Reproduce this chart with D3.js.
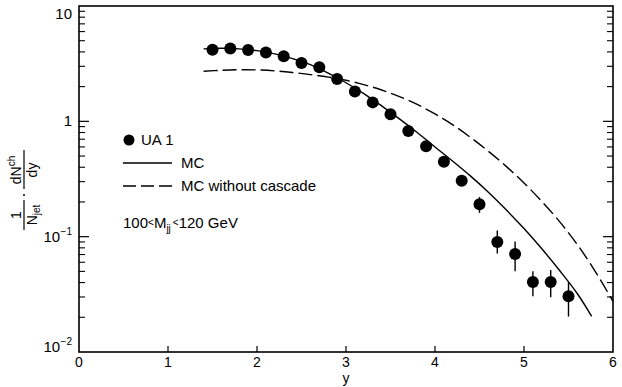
<!DOCTYPE html>
<html>
<head>
<meta charset="utf-8">
<script src="https://cdn.jsdelivr.net/npm/d3@7/dist/d3.min.js"></script>
<style>
  html, body { margin: 0; padding: 0; background: #fff; }
  svg { display: block; }
  text { font-family: "Liberation Sans", Arial, sans-serif; fill: #000; }
</style>
</head>
<body>
<svg id="chart" width="622" height="387"></svg>
<script>
// UA1 charged-particle rapidity distribution in jets, 100 < Mjj < 120 GeV
const ua1Y    = [1.5, 1.7, 1.9, 2.1, 2.3, 2.5, 2.7, 2.9, 3.1, 3.3, 3.5, 3.7, 3.9, 4.1, 4.3, 4.5, 4.7, 4.9, 5.1, 5.3, 5.5];
const ua1Val  = [4.18, 4.28, 4.15, 3.96, 3.66, 3.21, 2.94, 2.33, 1.81, 1.46, 1.15, 0.825, 0.608, 0.446, 0.305, 0.191, 0.090, 0.0709, 0.0404, 0.0404, 0.0304];
const ua1Lo   = [4.05, 4.15, 4.02, 3.84, 3.55, 3.11, 2.85, 2.26, 1.75, 1.41, 1.11, 0.79, 0.58, 0.42, 0.285, 0.161, 0.0713, 0.0502, 0.0305, 0.0299, 0.0203];
const ua1Hi   = [4.31, 4.41, 4.28, 4.08, 3.77, 3.31, 3.03, 2.40, 1.87, 1.51, 1.19, 0.86, 0.64, 0.47, 0.325, 0.221, 0.113, 0.091, 0.0502, 0.0513, 0.0404];

// Monte Carlo with parton cascade
const mcY   = [1.4, 1.6, 1.8, 2.0, 2.2, 2.4, 2.6, 2.8, 3.0, 3.2, 3.4, 3.6, 3.8, 4.0, 4.2, 4.4, 4.6, 4.8, 5.0, 5.2, 5.4, 5.6, 5.76];
const mcVal = [4.25, 4.3, 4.25, 4.1, 3.85, 3.5, 3.1, 2.62, 2.16, 1.74, 1.36, 1.05, 0.80, 0.60, 0.451, 0.335, 0.243, 0.171, 0.1175, 0.0785, 0.0509, 0.032, 0.0204];

// Monte Carlo without cascade
const ncY   = [1.4, 1.6, 1.8, 2.0, 2.2, 2.4, 2.6, 2.8, 3.0, 3.2, 3.4, 3.6, 3.8, 4.0, 4.2, 4.4, 4.6, 4.8, 5.0, 5.2, 5.4, 5.6, 5.8, 6.0];
const ncVal = [2.72, 2.77, 2.80, 2.79, 2.74, 2.65, 2.54, 2.42, 2.27, 2.08, 1.87, 1.64, 1.40, 1.16, 0.933, 0.724, 0.55, 0.407, 0.292, 0.202, 0.135, 0.0851, 0.0501, 0.0275];

const xTicks = [0, 1, 2, 3, 4, 5, 6];
const yMajor = [10, 1, 0.1, 0.01];
const yLabels = [
  { base: "10", exp: "" },
  { base: "1",  exp: "" },
  { base: "10", exp: "-1" },
  { base: "10", exp: "-2" }
];

const svg = d3.select("#chart");
const plotL = 79, plotR = 613, plotT = 6, plotB = 352;

const x = d3.scaleLinear().domain([0, 6]).range([plotL, plotR]);
const y = d3.scaleLog().domain([0.01, 10]).range([plotB, plotT]);

// frame
svg.append("rect")
  .attr("x", plotL).attr("y", plotT)
  .attr("width", plotR - plotL).attr("height", plotB - plotT)
  .attr("fill", "none").attr("stroke", "#000").attr("stroke-width", 1.6);

// x ticks (inward, bottom)
svg.append("g")
  .selectAll("line")
  .data(xTicks.slice(1, -1))
  .join("line")
  .attr("x1", d => x(d)).attr("x2", d => x(d))
  .attr("y1", plotB).attr("y2", plotB - 6)
  .attr("stroke", "#000").attr("stroke-width", 1.2);

svg.append("g")
  .selectAll("text")
  .data(xTicks)
  .join("text")
  .attr("x", d => x(d)).attr("y", 367)
  .attr("text-anchor", "middle")
  .attr("font-size", 14)
  .text(d => d);

svg.append("text")
  .attr("x", x(3)).attr("y", 383)
  .attr("text-anchor", "middle")
  .attr("font-size", 14)
  .text("y");

// y ticks on both sides, log minor ticks
const minor = [];
[0.01, 0.1, 1].forEach(dec => { for (let k = 2; k <= 9; k++) minor.push(dec * k); });

[plotL, plotR].forEach((x0, side) => {
  const dir = side === 0 ? 1 : -1;
  const g = svg.append("g");
  g.selectAll("line.maj").data(yMajor.slice(1, -1)).join("line")
    .attr("class", "maj")
    .attr("x1", x0).attr("x2", x0 + dir * 10)
    .attr("y1", d => y(d)).attr("y2", d => y(d))
    .attr("stroke", "#000").attr("stroke-width", 1.2);
  g.selectAll("line.min").data(minor).join("line")
    .attr("class", "min")
    .attr("x1", x0).attr("x2", x0 + dir * 6)
    .attr("y1", d => y(d)).attr("y2", d => y(d))
    .attr("stroke", "#000").attr("stroke-width", 1.1);
});

// y tick labels
const yl = svg.append("g");
yMajor.forEach((v, i) => {
  const ty = Math.min(Math.max(y(v) + 5, 19), 352);
  const t = yl.append("text")
    .attr("x", 72).attr("y", ty)
    .attr("text-anchor", "end")
    .attr("font-size", 15);
  t.append("tspan").text(yLabels[i].base);
  if (yLabels[i].exp) {
    t.append("tspan")
      .attr("font-size", 10)
      .attr("dx", 0.5)
      .attr("dy", -7)
      .text(yLabels[i].exp.replace("-", "\u2212"));
  }
});

// y axis title: 1/N_jet · dN^ch/dy, rotated
const yt = svg.append("g").attr("transform", "translate(24,192) rotate(-90)");
// first fraction 1 / N_jet
yt.append("line").attr("x1", -38).attr("x2", -8).attr("y1", 0).attr("y2", 0)
  .attr("stroke", "#000").attr("stroke-width", 1.2);
yt.append("text").attr("x", -23).attr("y", -3).attr("text-anchor", "middle")
  .attr("font-size", 14).text("1");
const nj = yt.append("text").attr("x", -23).attr("y", 13).attr("text-anchor", "middle")
  .attr("font-size", 14);
nj.append("tspan").text("N");
nj.append("tspan").attr("font-size", 10).attr("dy", 3).text("jet");
// centred dot
yt.append("circle").attr("cx", -3).attr("cy", 0).attr("r", 1).attr("fill", "#000");
// second fraction dN^ch / dy
yt.append("line").attr("x1", 3).attr("x2", 42).attr("y1", 0).attr("y2", 0)
  .attr("stroke", "#000").attr("stroke-width", 1.2);
const dn = yt.append("text").attr("x", 22).attr("y", -3).attr("text-anchor", "middle")
  .attr("font-size", 14);
dn.append("tspan").text("dN");
dn.append("tspan").attr("font-size", 10).attr("dy", -6).text("ch");
yt.append("text").attr("x", 22).attr("y", 13).attr("text-anchor", "middle")
  .attr("font-size", 14).text("dy");

// curves
const line = d3.line()
  .x(d => x(d[0]))
  .y(d => y(d[1]))
  .curve(d3.curveCatmullRom.alpha(0.5));

svg.append("path")
  .datum(mcY.map((v, i) => [v, mcVal[i]]))
  .attr("d", line)
  .attr("fill", "none").attr("stroke", "#000").attr("stroke-width", 1.4);

svg.append("path")
  .datum(ncY.map((v, i) => [v, ncVal[i]]))
  .attr("d", line)
  .attr("fill", "none").attr("stroke", "#000").attr("stroke-width", 1.4)
  .attr("stroke-dasharray", "14,5");

// data points with error bars
const pts = svg.append("g");
pts.selectAll("line").data(ua1Y).join("line")
  .attr("x1", d => x(d)).attr("x2", d => x(d))
  .attr("y1", (d, i) => y(ua1Lo[i])).attr("y2", (d, i) => y(ua1Hi[i]))
  .attr("stroke", "#000").attr("stroke-width", 1.4);
pts.selectAll("circle").data(ua1Y).join("circle")
  .attr("cx", d => x(d)).attr("cy", (d, i) => y(ua1Val[i]))
  .attr("r", 6).attr("fill", "#000");

// legend
const lg = svg.append("g");
lg.append("circle").attr("cx", 129).attr("cy", 140).attr("r", 5.5).attr("fill", "#000");
lg.append("text").attr("x", 141).attr("y", 145).attr("font-size", 15).text("UA 1");
lg.append("line").attr("x1", 123).attr("x2", 172).attr("y1", 163).attr("y2", 163)
  .attr("stroke", "#000").attr("stroke-width", 1.4);
lg.append("text").attr("x", 181).attr("y", 168).attr("font-size", 15).text("MC");
lg.append("line").attr("x1", 123).attr("x2", 172).attr("y1", 186).attr("y2", 186)
  .attr("stroke", "#000").attr("stroke-width", 1.4).attr("stroke-dasharray", "13,5");
lg.append("text").attr("x", 181).attr("y", 191).attr("font-size", 15).text("MC without cascade");

const cut = lg.append("text").attr("x", 123).attr("y", 228).attr("font-size", 15);
cut.append("tspan").text("100");
cut.append("tspan").attr("font-size", 10).attr("dy", -2).text("<");
cut.append("tspan").attr("dy", 2).text("M");
cut.append("tspan").attr("font-size", 10).attr("dy", 4).text("jj");
cut.append("tspan").attr("font-size", 10).attr("dy", -6).attr("dx", 2).text("<");
cut.append("tspan").attr("dy", 2).text("120  GeV");
</script>
</body>
</html>
